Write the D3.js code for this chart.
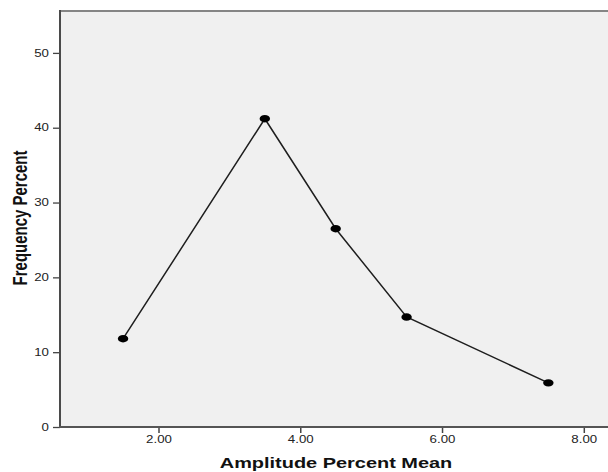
<!DOCTYPE html>
<html><head><meta charset="utf-8">
<script src="https://cdn.jsdelivr.net/npm/d3@7"></script>
<style>body{margin:0;background:#fff}</style>
</head><body>
<svg id="chart" width="608" height="472"></svg>
<script>
// ---- data ----
const amplitudeMean = [1.5, 3.5, 4.5, 5.5, 7.5];
const frequencyPercent = [11.8, 41.2, 26.5, 14.7, 5.9];
const xTickValues = [2, 4, 6, 8];
const yTickValues = [0, 10, 20, 30, 40, 50];
const xTitle = "Amplitude Percent Mean";
const yTitle = "Frequency Percent";

// ---- layout ----
const svg = d3.select("#chart");
const SX = 1.33; // the original picture is stretched horizontally
const P = {left: 60, top: 11, bottom: 427, right: 612};
const font = "'Liberation Sans', Arial, sans-serif";

const x = d3.scaleLinear().domain([2, 8]).range([158.5, 583.8]);
const y = d3.scaleLinear().domain([0, 55.6]).range([P.bottom, P.top]);

// plot background
svg.append("rect")
  .attr("x", P.left).attr("y", P.top)
  .attr("width", P.right - P.left).attr("height", P.bottom - P.top)
  .attr("fill", "#f0f0f0");
svg.append("line")
  .attr("x1", P.left).attr("x2", P.right).attr("y1", P.top).attr("y2", P.top)
  .attr("stroke", "#858585").attr("stroke-width", 2);

// y axis
const gy = svg.append("g").attr("transform", `translate(${P.left},0)`)
  .call(d3.axisLeft(y).tickValues(yTickValues).tickFormat(d3.format("d")).tickSize(7).tickPadding(4));
gy.select(".domain").remove();
gy.selectAll(".tick line").attr("stroke", "#444").attr("stroke-width", 1.3);
gy.selectAll(".tick text")
  .attr("x", -11 / SX)
  .attr("transform", `scale(${SX},1)`)
  .attr("font-family", font).attr("font-size", 10).attr("fill", "#222");

// x axis
const gx = svg.append("g").attr("transform", `translate(0,${P.bottom})`)
  .call(d3.axisBottom(x).tickValues(xTickValues).tickFormat(d3.format(".2f")).tickSize(6).tickPadding(3));
gx.select(".domain").remove();
gx.selectAll(".tick line").attr("stroke", "#444").attr("stroke-width", 1.5);
gx.selectAll(".tick text")
  .attr("transform", `scale(${SX},1)`)
  .attr("font-family", font).attr("font-size", 10).attr("fill", "#222");
// fix text x after scaling: ticks are translated groups, text x=0 so scale is harmless

// axis lines
svg.append("line")
  .attr("x1", P.left).attr("x2", P.left).attr("y1", P.top - 1).attr("y2", P.bottom)
  .attr("stroke", "#4a4a4a").attr("stroke-width", 2);
svg.append("line")
  .attr("x1", P.left - 1).attr("x2", P.right).attr("y1", P.bottom).attr("y2", P.bottom)
  .attr("stroke", "#555").attr("stroke-width", 2);

// series line
const pts = amplitudeMean.map((a, i) => [a, frequencyPercent[i]]);
svg.append("path")
  .datum(pts)
  .attr("fill", "none").attr("stroke", "#1e1e1e").attr("stroke-width", 1.5)
  .attr("d", d3.line().x(d => x(d[0])).y(d => y(d[1])));

svg.selectAll("ellipse.pt").data(pts).enter().append("ellipse")
  .attr("class", "pt")
  .attr("cx", d => x(d[0])).attr("cy", d => y(d[1]))
  .attr("rx", 5.2).attr("ry", 3.7)
  .attr("fill", "#000");

// titles
svg.append("text")
  .attr("transform", `translate(336,468) scale(${SX},1)`)
  .attr("text-anchor", "middle")
  .attr("font-family", font).attr("font-weight", "bold").attr("font-size", 15)
  .attr("fill", "#111")
  .text(xTitle);

svg.append("text")
  .attr("transform", `translate(27,218) scale(${SX},1) rotate(-90)`)
  .attr("text-anchor", "middle")
  .attr("font-family", font).attr("font-weight", "bold").attr("font-size", 15)
  .attr("fill", "#111")
  .text(yTitle);
</script>
</body></html>
